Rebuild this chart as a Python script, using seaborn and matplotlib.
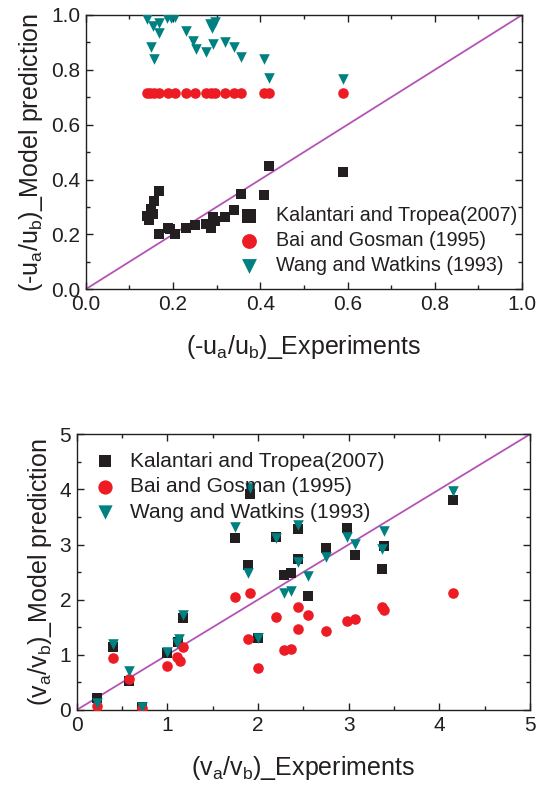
import matplotlib
matplotlib.use('Agg')
import matplotlib.pyplot as plt
from matplotlib.ticker import MultipleLocator
import seaborn as sns

sns.set_style('ticks')
plt.rcParams['font.family'] = ['Liberation Sans', 'DejaVu Sans']
plt.rcParams['mathtext.default'] = 'regular'

labels = ['Kalantari and Tropea(2007)', 'Bai and Gosman (1995)', 'Wang and Watkins (1993)']
colors = ['#231f20', '#ed1c24', '#008080']
markers = ['s', 'o', 'v']

# top panel: -ua/ub
u_kal_x = [0.141, 0.144, 0.149, 0.156, 0.168, 0.154, 0.168, 0.189, 0.193, 0.205, 0.230,
           0.250, 0.275, 0.287, 0.291, 0.296, 0.318, 0.339, 0.356, 0.408, 0.420, 0.589]
u_kal_y = [0.266, 0.254, 0.292, 0.322, 0.358, 0.274, 0.200, 0.222, 0.218, 0.203, 0.222,
           0.234, 0.236, 0.222, 0.262, 0.249, 0.264, 0.288, 0.347, 0.342, 0.449, 0.428]
u_bai_x = [0.140, 0.147, 0.156, 0.168, 0.189, 0.205, 0.230, 0.250, 0.275, 0.287, 0.296,
           0.318, 0.339, 0.356, 0.408, 0.420, 0.589]
u_bai_y = [0.714] * 17
u_wang_x = [0.141, 0.155, 0.168, 0.168, 0.149, 0.156, 0.186, 0.196, 0.205, 0.230, 0.245,
            0.253, 0.275, 0.285, 0.289, 0.296, 0.291, 0.318, 0.339, 0.356, 0.408, 0.420, 0.589]
u_wang_y = [0.984, 0.960, 0.972, 0.933, 0.884, 0.838, 0.990, 0.988, 0.992, 0.943, 0.906,
            0.877, 0.866, 0.967, 0.951, 0.976, 0.894, 0.901, 0.884, 0.846, 0.838, 0.771, 0.765]

# bottom panel: va/vb
v_kal_x = [0.227, 0.397, 0.577, 0.716, 1.0, 1.12, 1.175, 1.745, 1.89, 1.91, 2.0, 2.2,
           2.29, 2.36, 2.44, 2.44, 2.55, 2.745, 2.98, 3.07, 3.37, 3.39, 4.15]
v_kal_y = [0.21, 1.14, 0.53, 0.05, 1.03, 1.24, 1.66, 3.11, 2.62, 3.91, 1.30, 3.14,
           2.45, 2.48, 3.29, 2.73, 2.07, 2.93, 3.30, 2.81, 2.55, 2.98, 3.80]
v_bai_x = [0.227, 0.397, 0.577, 0.716, 1.0, 1.11, 1.14, 1.175, 1.745, 1.89, 1.91, 2.0,
           2.2, 2.29, 2.36, 2.44, 2.44, 2.55, 2.745, 2.98, 3.07, 3.37, 3.39, 4.15]
v_bai_y = [0.08, 0.94, 0.56, 0.03, 0.79, 0.96, 0.88, 1.15, 2.05, 1.29, 2.12, 0.77,
           1.69, 1.08, 1.10, 1.86, 1.46, 1.72, 1.44, 1.61, 1.65, 1.86, 1.81, 2.12]
v_wang_x = [0.227, 0.397, 0.577, 0.716, 1.0, 1.11, 1.13, 1.175, 1.745, 1.89, 1.91, 2.0,
            2.2, 2.29, 2.36, 2.44, 2.44, 2.55, 2.745, 2.98, 3.07, 3.37, 3.39, 4.15]
v_wang_y = [0.12, 1.19, 0.71, 0.05, 1.05, 1.22, 1.28, 1.73, 3.31, 2.48, 4.03, 1.31,
            3.12, 2.12, 2.15, 3.36, 2.69, 2.43, 2.78, 3.13, 3.01, 2.91, 3.25, 3.97]

fig = plt.figure(figsize=(5.36, 7.88), dpi=100)
ax1 = fig.add_axes([0.160, 0.633, 0.814, 0.348])
ax2 = fig.add_axes([0.143, 0.099, 0.846, 0.350])

def panel(ax, series, lim, major, minor, xlabel, ylabel, fmt):
    ax.plot([0, lim], [0, lim], color='#b553b5', lw=1.3, zorder=1)
    for (x, y), lab, c, m in zip(series, labels, colors, markers):
        s = 46 if m == 's' else 58
        sns.scatterplot(x=x, y=y, ax=ax, color=c, marker=m, s=s, linewidth=0,
                        label=lab, zorder=3)
    ax.set_xlim(0, lim)
    ax.set_ylim(0, lim)
    ax.xaxis.set_major_locator(MultipleLocator(major))
    ax.yaxis.set_major_locator(MultipleLocator(major))
    ax.xaxis.set_minor_locator(MultipleLocator(minor))
    ax.yaxis.set_minor_locator(MultipleLocator(minor))
    ax.xaxis.set_major_formatter(fmt)
    ax.yaxis.set_major_formatter(fmt)
    ax.tick_params(which='both', direction='in', top=True, right=True, color='#231f20',
                   width=1, labelsize=15, labelcolor='#231f20', pad=4)
    ax.tick_params(which='major', length=5)
    ax.tick_params(which='minor', length=3)
    for sp in ax.spines.values():
        sp.set_color('#231f20')
        sp.set_linewidth(1)
    ax.set_xlabel(xlabel, fontsize=18, color='#231f20', labelpad=14)
    ax.set_ylabel(ylabel, fontsize=18, color='#231f20', labelpad=4)

panel(ax1, [(u_kal_x, u_kal_y), (u_bai_x, u_bai_y), (u_wang_x, u_wang_y)], 1.0, 0.2, 0.1,
      '(-u$_a$/u$_b$)_Experiments', '(-u$_a$/u$_b$)_Model prediction', '{x:.1f}')
panel(ax2, [(v_kal_x, v_kal_y), (v_bai_x, v_bai_y), (v_wang_x, v_wang_y)], 5, 1, 0.5,
      '(v$_a$/v$_b$)_Experiments', '(v$_a$/v$_b$)_Model prediction', '{x:.0f}')

ax1.legend(loc='lower left', bbox_to_anchor=(0.292, -0.005), frameon=False, fontsize=14.2,
           markerscale=1.4, handletextpad=0.4, labelspacing=0.3, borderpad=0.3,
           labelcolor='#231f20')
ax2.legend(loc='upper left', bbox_to_anchor=(-0.01, 1.005), frameon=False, fontsize=15,
           markerscale=1.35, handlelength=1.4, handletextpad=0.5, labelspacing=0.32,
           borderpad=0.4, labelcolor='#231f20')

fig.savefig('out.png', dpi=100, facecolor='white')
